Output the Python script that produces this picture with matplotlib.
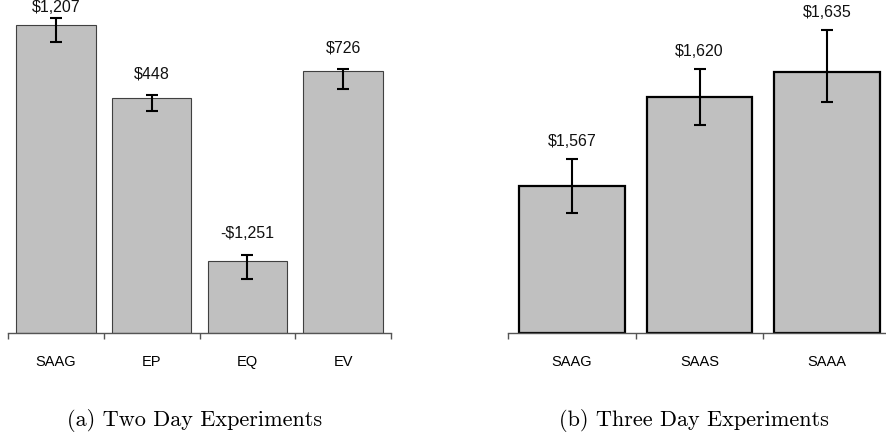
import matplotlib
matplotlib.use("Agg")
import matplotlib.pyplot as plt
import numpy as np

# ---- data ----
cats_a = ["SAAG", "EP", "EQ", "EV"]
vals_a = [1207, 448, -1251, 726]
err_lo_a = [180, 135, 191, 187]
err_hi_a = [70, 31, 66, 24]
labels_a = ["$1,207", "$448", "-$1,251", "$726"]

cats_b = ["SAAG", "SAAS", "SAAA"]
vals_b = [1567, 1620, 1635]
err_lo_b = [16, 16.5, 18]
err_hi_b = [16, 16.5, 24.5]
labels_b = ["$1,567", "$1,620", "$1,635"]

captions = ["(a) Two Day Experiments", "(b) Three Day Experiments"]

W, H = 886, 437
fig = plt.figure(figsize=(W / 100, H / 100), dpi=100)

base_px = 333

def make_panel(x0, x1, cats, vals, elo, ehi, labels, ylim, edgecolor, edgelw, off_px):
    ax = fig.add_axes([x0 / W, (H - base_px) / H, (x1 - x0) / W, base_px / H])
    n = len(cats)
    x = np.arange(n)
    bottom = ylim[0]
    heights = [v - bottom for v in vals]
    ax.bar(x, heights, bottom=bottom, width=0.83, color="#c0c0c0",
           edgecolor=edgecolor, linewidth=edgelw, zorder=2)
    ax.errorbar(x, vals, yerr=[elo, ehi], fmt="none", ecolor="black",
                elinewidth=1.5, capsize=4, capthick=1.5, zorder=3)
    ax.set_xlim(-0.5, n - 0.5)
    ax.set_ylim(*ylim)
    units_per_px = (ylim[1] - ylim[0]) / base_px
    for xi, v, eh, lab in zip(x, vals, ehi, labels):
        y = v + eh + off_px * units_per_px
        y = min(y, ylim[1] - 7 * units_per_px)
        ax.text(xi, y, lab, ha="center", va="center", fontsize=11.5,
                family="Liberation Sans", color="#111111", clip_on=False)
    for s in ["top", "left", "right"]:
        ax.spines[s].set_visible(False)
    ax.spines["bottom"].set_color("#555555")
    ax.spines["bottom"].set_linewidth(1.0)
    ax.set_yticks([])
    ax.set_xticks(np.arange(n + 1) - 0.5)
    ax.set_xticklabels([])
    ax.tick_params(axis="x", which="major", length=4.5, width=1.0, color="#555555", direction="out")
    ax.set_xticks(x, minor=True)
    ax.set_xticklabels(cats, minor=True, fontsize=10.5, family="Liberation Sans")
    ax.tick_params(axis="x", which="minor", length=0, pad=16)
    ax.patch.set_alpha(0)
    return ax

make_panel(8, 391, cats_a, vals_a, err_lo_a, err_hi_a, labels_a, (-2000, 1467), "#404040", 0.8, 21)
make_panel(508.3, 890.8, cats_b, vals_b, err_lo_b, err_hi_b, labels_b, (1480, 1677.5), "black", 1.6, 18)

fig.text(195 / W, 1 - 421 / H, captions[0], ha="center", va="center", fontsize=16, family="cmr10")
fig.text(694 / W, 1 - 421 / H, captions[1], ha="center", va="center", fontsize=16, family="cmr10")

fig.savefig("out.png", dpi=100)
